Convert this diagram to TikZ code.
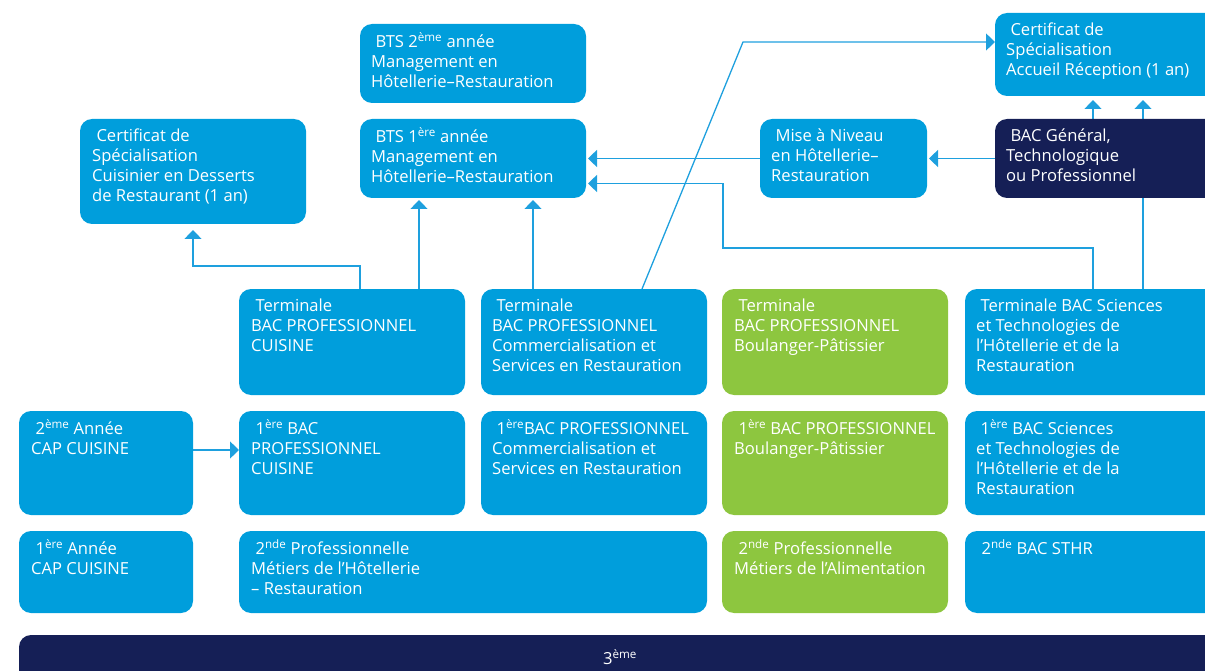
\documentclass[tikz,border=0pt]{standalone}
\usepackage{fontspec}
\setmainfont{Open Sans}
\usetikzlibrary{arrows.meta,calc,backgrounds}
\definecolor{cyanbox}{RGB}{0,158,220}
\definecolor{greenbox}{RGB}{141,198,63}
\definecolor{navybox}{RGB}{21,31,86}
\definecolor{linkblue}{RGB}{30,160,222}
\begin{document}
\begin{tikzpicture}[x=1pt,y=-1pt,
		box/.style={rectangle,rounded corners=12pt,fill=cyanbox,anchor=north west,inner sep=0pt,outer sep=0pt},
		vert/.style={box,fill=greenbox},
		nuit/.style={box,fill=navybox},
		txt/.style={anchor=north west,inner sep=0pt,align=left,text=white,font=\fontsize{16.6}{20}\selectfont},
		link/.style={linkblue,line width=1.3pt,-{Triangle[width=17pt,length=9pt]},shorten >=2pt}]
			%parcours hotellerie-restauration
			\useasboundingbox (0,0) rectangle (1205,671);
			\clip (0,0) rectangle (1205,671);
			% haut
			\node[box,minimum width=226pt,minimum height=105pt] (csd) at (80,119) {};
			\node[txt] (csdt) at ($(csd.north west)+(12,8)$) {\strut\ Certificat de\\Spécialisation\\Cuisinier en Desserts\\de Restaurant (1 an)};
			\node[box,minimum width=226pt,minimum height=79pt] (bts2) at (360,24) {};
			\node[txt] (bts2t) at ($(bts2.north west)+(11,8)$) {\strut\ BTS 2\textsuperscript{ème} année\\Management en\\Hôtellerie–Restauration};
			\node[box,minimum width=226pt,minimum height=79pt] (bts1) at (360,119) {};
			\node[txt] (bts1t) at ($(bts1.north west)+(11,8)$) {\strut\ BTS 1\textsuperscript{ère} année\\Management en\\Hôtellerie–Restauration};
			\node[box,minimum width=167pt,minimum height=79pt] (mise) at (760,119) {};
			\node[txt] (miset) at ($(mise.north west)+(11,8)$) {\strut\ Mise à Niveau\\en Hôtellerie–\\Restauration};
			\node[nuit,minimum width=260pt,minimum height=79pt] (bac) at (995,119) {};
			\node[txt] (bact) at ($(bac.north west)+(11,8)$) {\strut\ BAC Général,\\Technologique\\ou Professionnel};
			\node[box,minimum width=260pt,minimum height=83pt] (csa) at (995,13) {};
			\node[txt] (csat) at ($(csa.north west)+(11,8)$) {\strut\ Certificat de\\Spécialisation\\Accueil Réception (1 an)};
			% terminales
			\node[box,minimum width=226pt,minimum height=106pt] (tcui) at (239,289) {};
			\node[txt] (tcuit) at ($(tcui.north west)+(12,8)$) {\strut\ Terminale\\BAC PROFESSIONNEL\\CUISINE};
			\node[box,minimum width=226pt,minimum height=106pt] (tcsr) at (481,289) {};
			\node[txt] (tcsrt) at ($(tcsr.north west)+(11,8)$) {\strut\ Terminale\\BAC PROFESSIONNEL\\Commercialisation et\\Services en Restauration};
			\node[vert,minimum width=226pt,minimum height=106pt] (tbou) at (722,289) {};
			\node[txt] (tbout) at ($(tbou.north west)+(12,8)$) {\strut\ Terminale\\BAC PROFESSIONNEL\\Boulanger-Pâtissier};
			\node[box,minimum width=290pt,minimum height=106pt] (tsthr) at (965,289) {};
			\node[txt] (tsthrt) at ($(tsthr.north west)+(11,8)$) {\strut\ Terminale BAC Sciences\\et Technologies de\\l’Hôtellerie et de la\\Restauration};
			% premieres
			\node[box,minimum width=174pt,minimum height=104pt] (cap2) at (19,411) {};
			\node[txt] (cap2t) at ($(cap2.north west)+(12,8)$) {\strut\ 2\textsuperscript{ème} Année\\CAP CUISINE};
			\node[box,minimum width=226pt,minimum height=104pt] (p1cui) at (239,411) {};
			\node[txt] (p1cuit) at ($(p1cui.north west)+(12,8)$) {\strut\ 1\textsuperscript{ère} BAC\\PROFESSIONNEL\\CUISINE};
			\node[box,minimum width=226pt,minimum height=104pt] (p1csr) at (481,411) {};
			\node[txt] (p1csrt) at ($(p1csr.north west)+(11,8)$) {\strut\ 1\textsuperscript{ère}BAC PROFESSIONNEL\\Commercialisation et\\Services en Restauration};
			\node[vert,minimum width=226pt,minimum height=104pt] (p1bou) at (722,411) {};
			\node[txt] (p1bout) at ($(p1bou.north west)+(12,8)$) {\strut\ 1\textsuperscript{ère} BAC PROFESSIONNEL\\Boulanger-Pâtissier};
			\node[box,minimum width=290pt,minimum height=104pt] (p1sthr) at (965,411) {};
			\node[txt] (p1sthrt) at ($(p1sthr.north west)+(11,8)$) {\strut\ 1\textsuperscript{ère} BAC Sciences\\et Technologies de\\l’Hôtellerie et de la\\Restauration};
			% secondes
			\node[box,minimum width=174pt,minimum height=82pt] (cap1) at (19,531) {};
			\node[txt] (cap1t) at ($(cap1.north west)+(12,8)$) {\strut\ 1\textsuperscript{ère} Année\\CAP CUISINE};
			\node[box,minimum width=468pt,minimum height=82pt] (s2mhr) at (239,531) {};
			\node[txt] (s2mhrt) at ($(s2mhr.north west)+(12,8)$) {\strut\ 2\textsuperscript{nde} Professionnelle\\Métiers de l’Hôtellerie\\– Restauration};
			\node[vert,minimum width=226pt,minimum height=82pt] (s2ali) at (722,531) {};
			\node[txt] (s2alit) at ($(s2ali.north west)+(12,8)$) {\strut\ 2\textsuperscript{nde} Professionnelle\\Métiers de l’Alimentation};
			\node[box,minimum width=290pt,minimum height=82pt] (s2sthr) at (965,531) {};
			\node[txt] (s2sthrt) at ($(s2sthr.north west)+(12,8)$) {\strut\ 2\textsuperscript{nde} BAC STHR};
			% 3eme
			\node[nuit,minimum width=1300pt,minimum height=100pt] (trois) at (19,635) {};
			\node[txt,anchor=center] (troist) at (620,657) {3\textsuperscript{ème}};
			% fleches
			\begin{scope}[on background layer]
				\coordinate (c1) at ($(tcui.north west)+(121,0)$);
				\draw[link,shorten >=6pt] (c1) -- ++(0,-23) -| (csd.south);
				\coordinate (c2) at ($(tcui.north west)+(180,0)$);
				\draw[link] (c2) -- (c2 |- bts1.south);
				\coordinate (c3) at ($(tcsr.north west)+(52,0)$);
				\draw[link] (c3) -- (c3 |- bts1.south);
				\coordinate (c4) at ($(tcsr.north west)+(161,0)$);
				\coordinate (c5) at ($(csa.north west)+(-252,29)$);
				\draw[link,shorten >=0pt] (c4) -- (c5) -- (c5 -| csa.west);
				\draw[link] (mise.west) -- (bts1.east);
				\draw[link] (bac.west) -- (mise.east);
				\coordinate (c6) at ($(tsthr.north west)+(128,0)$);
				\coordinate (c7) at ($(bts1.east)+(137,25)$);
				\draw[link] (c6) -- ++(0,-41) -| (c7) -- (c7 -| bts1.east);
				\coordinate (c8) at ($(tsthr.north west)+(178,0)$);
				\draw[link,shorten >=4pt] (c8) -- (c8 |- csa.south);
				\coordinate (c9) at ($(bac.north west)+(98,0)$);
				\draw[link,shorten >=4pt] (c9) -- (c9 |- csa.south);
				\coordinate (c10) at ($(cap2.north east)+(0,39)$);
				\draw[link,shorten >=0pt] (c10) -- (c10 -| p1cui.west);
			\end{scope}
\end{tikzpicture}
\end{document}
